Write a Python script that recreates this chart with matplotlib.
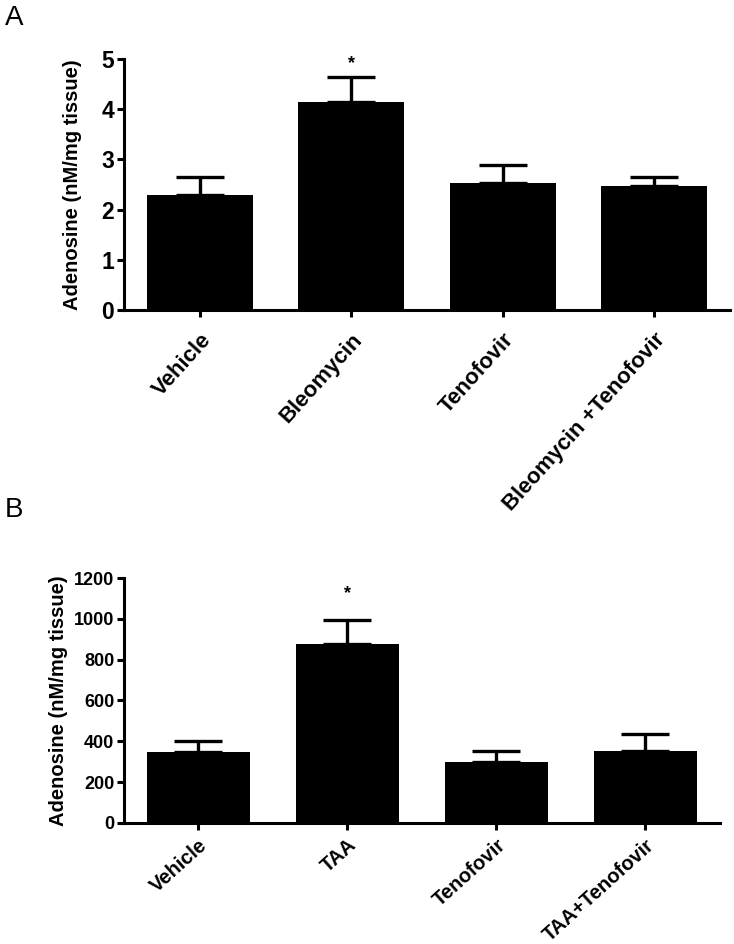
import matplotlib
matplotlib.use("Agg")
import matplotlib.pyplot as plt

plt.rcParams['font.family'] = ['Liberation Sans', 'DejaVu Sans']

# Panel A data
labels_a = ['Vehicle', 'Bleomycin', 'Tenofovir', 'Bleomycin +Tenofovir']
means_a = [2.30, 4.14, 2.53, 2.47]
sem_a = [0.35, 0.51, 0.36, 0.18]

# Panel B data
labels_b = ['Vehicle', 'TAA', 'Tenofovir', 'TAA+Tenofovir']
means_b = [346, 876, 300, 353]
sem_b = [54, 120, 55, 83]

ylabel = 'Adenosine (nM/mg tissue)'


def draw_panel(ax, labels, means, sems, ymax, yticks, tick_size, star_idx, star_y,
               width, label_x, xlab_size, xlab_rot, xpad):
    x = list(range(len(labels)))
    ax.bar(x, means, width=width, color='black', edgecolor='none', zorder=2)
    ax.errorbar(x, means, yerr=[[0] * len(sems), sems], fmt='none', ecolor='black',
                elinewidth=2.4, capsize=17.5, capthick=2.4, zorder=1)
    ax.text(star_idx, star_y, '*', ha='center', va='center', fontsize=13,
            fontweight='bold')
    ax.set_xlim(-0.5, len(labels) - 0.5)
    ax.set_ylim(0, ymax)
    ax.set_yticks(yticks)
    ax.set_xticks(x)
    ax.set_xticklabels(labels, rotation=xlab_rot, ha='right', rotation_mode='anchor',
                       fontsize=xlab_size, fontweight='bold')
    for t in ax.get_yticklabels():
        t.set_fontsize(tick_size)
        t.set_fontweight('bold')
    ax.spines['top'].set_visible(False)
    ax.spines['right'].set_visible(False)
    ax.spines['left'].set_linewidth(2.2)
    ax.spines['bottom'].set_linewidth(2.2)
    ax.tick_params(axis='y', length=5, width=2.2, pad=2)
    ax.tick_params(axis='x', length=5, width=2.2, pad=xpad)
    ax.set_ylabel(ylabel, fontsize=14.5, fontweight='bold')
    ax.yaxis.set_label_coords(label_x, 0.5)


fig = plt.figure(figsize=(7.34, 9.44), dpi=100)

ax_a = fig.add_axes([0.1689, 0.6716, 0.8256, 0.2659])
draw_panel(ax_a, labels_a, means_a, sem_a, 5, [0, 1, 2, 3, 4, 5], 16.5, 1, 4.9,
           0.7, -0.069, 16, 48, 9)

ax_b = fig.add_axes([0.1689, 0.1282, 0.812, 0.2595])
draw_panel(ax_b, labels_b, means_b, sem_b, 1200, [0, 200, 400, 600, 800, 1000, 1200],
           13, 1, 1125, 0.69, -0.094, 14.5, 42, 4)

fig.text(5 / 734, 1 - 5 / 944, 'A', ha='left', va='top', fontsize=20)
fig.text(5 / 734, 1 - 497 / 944, 'B', ha='left', va='top', fontsize=20)

fig.savefig('out.png', dpi=100)
